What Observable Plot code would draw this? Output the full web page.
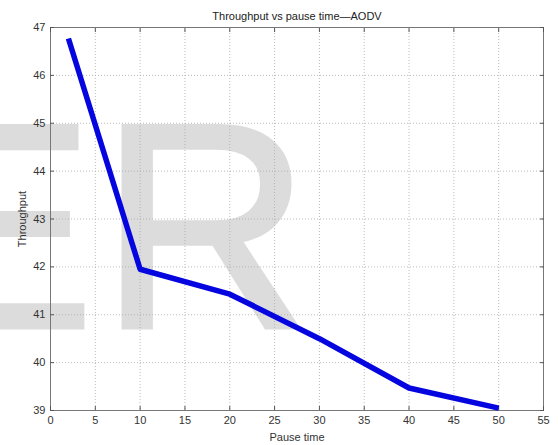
<!DOCTYPE html>
<html>
<head>
<meta charset="utf-8">
<script src="https://cdn.jsdelivr.net/npm/d3@7"></script>
<script src="https://cdn.jsdelivr.net/npm/@observablehq/plot@0.6"></script>
<style>
  html, body { margin: 0; padding: 0; background: #fff; }
  #chart { position: relative; width: 559px; height: 445px; }
  svg { font-family: "Liberation Sans", Arial, sans-serif; }
</style>
</head>
<body>
<div id="chart"></div>
<script>
const pauseTime = [2, 10, 20, 30, 40, 50];
const throughput = [46.77, 41.95, 41.43, 40.5, 39.47, 39.05];
const xTicks = [0, 5, 10, 15, 20, 25, 30, 35, 40, 45, 50, 55];
const yTicks = [39, 40, 41, 42, 43, 44, 45, 46, 47];
const titleText = "Throughput vs pause time\u2014AODV";
const xLabel = "Pause time";
const yLabel = "Throughput";
const watermark = ["E", "R"];

const data = pauseTime.map((x, i) => ({x, y: throughput[i]}));

const chart = Plot.plot({
  width: 559,
  height: 445,
  marginLeft: 50,
  marginRight: 16,
  marginTop: 27,
  marginBottom: 35,
  style: {fontFamily: "'Liberation Sans', Arial, sans-serif", fontSize: "11px", color: "#333", background: "transparent", overflow: "visible"},
  x: {domain: [0, 55], ticks: xTicks},
  y: {domain: [39, 47], ticks: yTicks},
  marks: [
    // watermark letters
    Plot.text([watermark[0]], {frameAnchor: "top-left", text: d => d, dx: -151, dy: 92, fontSize: 293, fill: "#dcdcdc", stroke: "#dcdcdc", strokeWidth: 4, strokeLinejoin: "miter", textAnchor: "start", lineAnchor: "top"}),
    Plot.text([watermark[1]], {frameAnchor: "top-left", text: d => d, dx: 49, dy: 92, fontSize: 293, fill: "#dcdcdc", stroke: "#dcdcdc", strokeWidth: 4, strokeLinejoin: "miter", textAnchor: "start", lineAnchor: "top"}),
    Plot.gridX(xTicks, {stroke: "#aaa", strokeOpacity: 1, strokeDasharray: "1,2", strokeWidth: 0.8}),
    Plot.gridY(yTicks, {stroke: "#aaa", strokeOpacity: 1, strokeDasharray: "1,2", strokeWidth: 0.8}),
    Plot.frame({stroke: "#777", strokeWidth: 1}),
    Plot.axisX(xTicks, {anchor: "bottom", tickSize: -4, tickPadding: 10, label: xLabel, labelAnchor: "center", labelArrow: "none", labelOffset: 30, stroke: "#555", fill: "#333"}),
    Plot.axisX(xTicks, {anchor: "top", tickSize: -4, tickFormat: () => "", label: null, stroke: "#555"}),
    Plot.axisY(yTicks, {anchor: "left", tickSize: -4, tickPadding: 9, label: yLabel, labelAnchor: "center", labelArrow: "none", labelOffset: 32, stroke: "#555", fill: "#333"}),
    Plot.axisY(yTicks, {anchor: "right", tickSize: -4, tickFormat: () => "", label: null, stroke: "#555"}),
    Plot.line(data, {x: "x", y: "y", stroke: "#0505e0", strokeWidth: 5.5, strokeLinejoin: "round", strokeLinecap: "butt"}),
    Plot.text([titleText], {frameAnchor: "top", text: d => d, dy: -8, fontSize: 11, fill: "#222", lineAnchor: "bottom"})
  ]
});
document.getElementById("chart").appendChild(chart);
</script>
</body>
</html>
